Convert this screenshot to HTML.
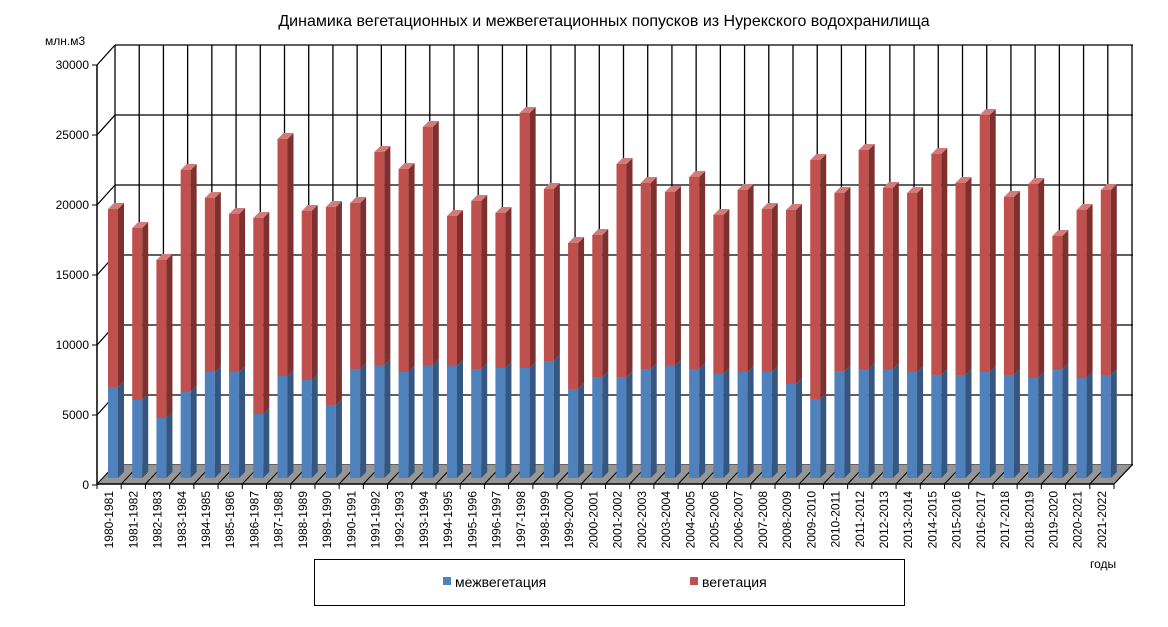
<!DOCTYPE html>
<html><head><meta charset="utf-8"><style>
html,body{margin:0;padding:0;background:#fff;}
svg{display:block;font-family:"Liberation Sans",Arial,sans-serif;}
</style></head><body>
<svg id="s" width="1168" height="627" viewBox="0 0 1168 627" xmlns="http://www.w3.org/2000/svg">
<text x="604" y="26" font-size="16" text-anchor="middle" fill="#000">Динамика вегетационных и межвегетационных попусков из Нурекского водохранилища</text>
<text x="45" y="45" font-size="12" fill="#000">млн.м3</text>
<text x="1090" y="568" font-size="12" fill="#000">годы</text>
<rect x="314.5" y="559.5" width="590" height="46" fill="#fff" stroke="#000" stroke-width="1"/>
<rect x="443" y="577" width="8" height="8" fill="#4F81BD"/>
<text x="455" y="587" font-size="14">межвегетация</text>
<rect x="690" y="577" width="8" height="8" fill="#C0504D"/>
<text x="702" y="587" font-size="14">вегетация</text>
<g id="g"></g>
</svg>
<script>
var g=document.getElementById('g'),h='';
var N=42,x0=97,x1=1114,w=(x1-x0)/N,dx=18,dy=19;
// back wall grid
for(var k=0;k<=6;k++){var y=45+70*k;h+='<line x1="115" y1="'+y+'" x2="1133" y2="'+y+'" stroke="#000" stroke-width="1.3"/>';
h+='<line x1="97" y1="'+(65+70*k)+'" x2="115" y2="'+y+'" stroke="#000" stroke-width="1.3"/>';
h+='<line x1="92" y1="'+(65+70*k)+'" x2="97" y2="'+(65+70*k)+'" stroke="#000"/>';
h+='<text x="89" y="'+(69+70*k)+'" font-size="12" text-anchor="end">'+(30000-5000*k)+'</text>';}
for(var i=0;i<=N;i++){var x=115+i*w;h+='<line x1="'+x+'" y1="45" x2="'+x+'" y2="465" stroke="#000" stroke-width="1.3"/>';}
// floor
h+='<polygon points="97,484 1114,484 1132,465 115,465" fill="#969696"/>';
for(var i=0;i<=N;i++){var x=x0+i*w;h+='<line x1="'+x+'" y1="484" x2="'+(x+dx)+'" y2="465" stroke="#000" stroke-width="1"/>';
h+='<line x1="'+x+'" y1="484" x2="'+x+'" y2="489" stroke="#000"/>';}
h+='<line x1="97" y1="65" x2="97" y2="484" stroke="#000" stroke-width="1.5"/>';
h+='<line x1="97" y1="484" x2="1114" y2="484" stroke="#000" stroke-width="1.5"/>';
h+='<line x1="1114" y1="484" x2="1132" y2="465" stroke="#000" stroke-width="1"/>';
var T=[209,228,260,170,198,214,218,139,211,207,203,152,169,127,216,201,213,113,189,243,235,164,183,192,177,215,190,209,210,160,193,150,188,193,154,183,115,197,184,236,210,190];
var B=[387,400,418,392,372,372,414,376,380,405,369,365,372,365,366,369,368,368,361,389,377,377,369,366,369,374,372,372,384,399,371,369,369,372,375,375,372,375,378,369,378,375];
var bot=478,bw=10,sd=6;
for(var i=0;i<N;i++){var l=x0+i*w+11,r=l+bw,t=T[i],b=B[i];
h+='<rect x="'+l+'" y="'+b+'" width="'+bw+'" height="'+(bot-b)+'" fill="#4F81BD"/>';
h+='<polygon points="'+r+','+bot+' '+(r+sd)+','+(bot-sd)+' '+(r+sd)+','+(b-sd)+' '+r+','+b+'" fill="#34567F"/>';
h+='<rect x="'+l+'" y="'+t+'" width="'+bw+'" height="'+(b-t)+'" fill="#C0504D"/>';
h+='<polygon points="'+r+','+b+' '+(r+sd)+','+(b-sd)+' '+(r+sd)+','+(t-sd)+' '+r+','+t+'" fill="#7E302E"/>';
h+='<polygon points="'+l+','+t+' '+r+','+t+' '+(r+sd)+','+(t-sd)+' '+(l+sd)+','+(t-sd)+'" fill="#D27B78"/>';
var cx=x0+(i+0.5)*w+4;var y1=1980+i;
h+='<text transform="translate('+cx+',491) rotate(-90)" font-size="12" text-anchor="end">'+y1+'-'+(y1+1)+'</text>';}
g.innerHTML=h;
</script>
</body></html>
